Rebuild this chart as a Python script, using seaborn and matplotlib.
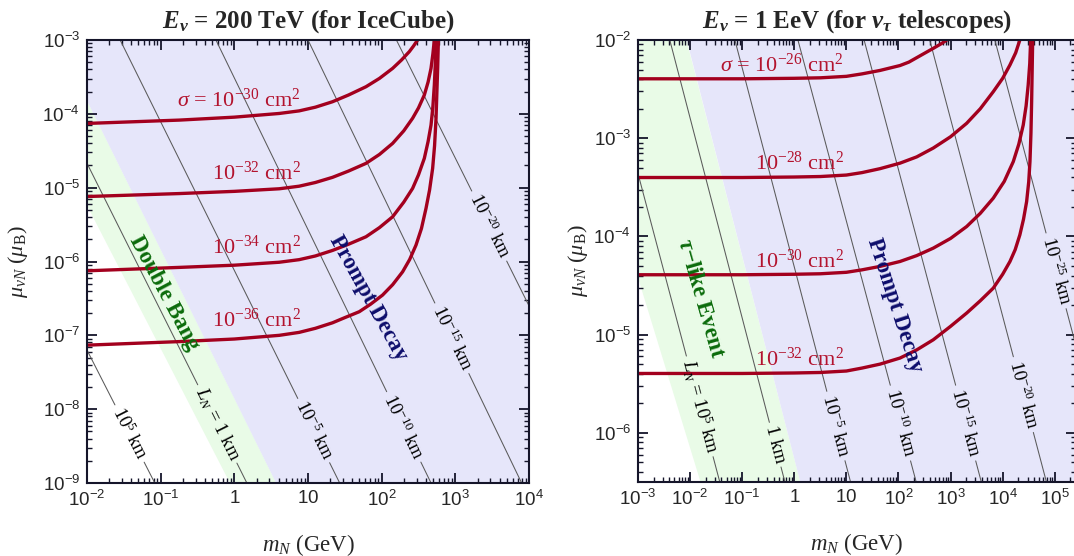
import numpy as np
import pandas as pd
import matplotlib
matplotlib.use("Agg")
import matplotlib.pyplot as plt
import seaborn as sns
from matplotlib.ticker import FixedLocator, FixedFormatter, LogLocator, NullFormatter

# ---------------- data: log10 values ----------------
# Left panel : E_nu = 200 TeV (IceCube)
left_xlim_log = (-2.0, 4.0)
left_ylim_log = (-9.0, -3.0)
left_title = r"$\mathbfit{E}_{\mathbfit{\nu}}$ = 200 TeV (for IceCube)"

left_s30_logm = [-2.0, -0.75, 0.0, 0.61, 0.88, 1.1, 1.333, 1.55, 1.787, 1.97, 2.149, 2.27, 2.375, 2.43, 2.488]
left_s30_logmu = [-4.13, -4.085, -4.045, -3.995, -3.96, -3.91, -3.836, -3.745, -3.633, -3.52, -3.384, -3.27,
                  -3.158, -3.085, -3.0]
left_s32_logm = [-2.0, -0.75, 0.0, 0.61, 0.88, 1.1, 1.333, 1.55, 1.787, 1.97, 2.149, 2.3, 2.42, 2.5, 2.579,
                 2.63, 2.67, 2.695, 2.715]
left_s32_logmu = [-5.12, -5.08, -5.05, -5.015, -4.98, -4.93, -4.86, -4.775, -4.671, -4.55, -4.40, -4.23,
                  -4.06, -3.92, -3.745, -3.57, -3.384, -3.19, -3.0]
left_s34_logm = [-2.0, -0.75, 0.0, 0.61, 0.88, 1.1, 1.333, 1.55, 1.787, 1.97, 2.149, 2.3, 2.42, 2.5, 2.579,
                 2.63, 2.67, 2.695, 2.715, 2.728, 2.738]
left_s34_logmu = [-6.126, -6.08, -6.05, -6.01, -5.975, -5.925, -5.85, -5.766, -5.665, -5.541, -5.394,
                  -5.196, -5.01, -4.826, -4.603, -4.376, -4.152, -3.906, -3.61, -3.326, -3.0]
left_s36_logm = [-2.0, -0.75, 0.0, 0.61, 0.88, 1.1, 1.333, 1.5, 1.696, 1.85, 2.012, 2.15, 2.284, 2.38,
                 2.466, 2.54, 2.602, 2.65, 2.692, 2.718, 2.738, 2.76, 2.77]
left_s36_logmu = [-7.133, -7.085, -7.05, -7.0, -6.96, -6.905, -6.83, -6.76, -6.68, -6.578, -6.455, -6.313,
                  -6.14, -5.973, -5.778, -5.553, -5.28, -5.033, -4.738, -4.433, -4.06, -3.384, -3.0]
left_sigma_labels = [r"$\sigma$ = 10$^{-30}$ cm$^{2}$", r"10$^{-32}$ cm$^{2}$",
                     r"10$^{-34}$ cm$^{2}$", r"10$^{-36}$ cm$^{2}$"]
left_sigma_label_logm = 0.9
left_sigma_label_logmu = [-3.81, -4.80, -5.80, -6.79]

# decay-length lines: two points (log m, log mu) each, label, label height
left_L_p1 = [(-2.0, -7.2), (-2.0, -4.67), (-1.55, -3.0), (-0.25, -3.0), (1.0, -3.0), (2.2, -3.0)]
left_L_p2 = [(-1.08, -9.0), (0.17, -9.0), (1.43, -9.0), (2.67, -9.0), (3.9, -9.0), (4.0, -6.6)]
left_L_labels = [r"10$^{5}$ km", r"$L_N$ = 1 km", r"10$^{-5}$ km", r"10$^{-10}$ km",
                 r"10$^{-15}$ km", r"10$^{-20}$ km"]
left_L_label_logmu = [-8.33, -8.2, -8.29, -8.24, -7.04, -5.52]

# region boundaries (two points each)
left_green_left = [(-2.0, -5.24), (-0.06, -9.0)]
left_green_right = [(-2.0, -3.82), (0.57, -9.0)]
left_region_texts = ["Double Bang", "Prompt Decay"]
left_region_pos = [(-0.95, -6.43), (1.82, -6.50)]

left_xticks_log = [-2, -1, 0, 1, 2, 3, 4]
left_xticklabels = [r"$\mathsf{10^{-2}}$", r"$\mathsf{10^{-1}}$", r"$\mathsf{1}$", r"$\mathsf{10}$",
                    r"$\mathsf{10^{2}}$", r"$\mathsf{10^{3}}$", r"$\mathsf{10^{4}}$"]
left_yticks_log = [-9, -8, -7, -6, -5, -4, -3]
left_yticklabels = [r"$\mathsf{10^{-9}}$", r"$\mathsf{10^{-8}}$", r"$\mathsf{10^{-7}}$", r"$\mathsf{10^{-6}}$",
                    r"$\mathsf{10^{-5}}$", r"$\mathsf{10^{-4}}$", r"$\mathsf{10^{-3}}$"]

# Right panel : E_nu = 1 EeV (nu_tau telescopes)
right_xlim_log = (-3.0, 5.4)
right_ylim_log = (-6.5, -2.0)
right_title = r"$\mathbfit{E}_{\mathbfit{\nu}}$ = 1 EeV (for $\mathbfit{\nu}_{\mathbfit{\tau}}$ telescopes)"

right_s26_logm = [-3.0, -1.0, 0.0, 0.5, 1.0, 1.3, 1.645, 2.029, 2.2, 2.35, 2.5, 2.668, 2.83, 2.98]
right_s26_logmu = [-2.395, -2.395, -2.39, -2.385, -2.37, -2.345, -2.31, -2.26, -2.225, -2.18, -2.135,
                   -2.085, -2.035, -1.98]
right_s28_logm = [-3.0, -1.0, 0.0, 0.5, 1.0, 1.3, 1.645, 2.029, 2.35, 2.668, 3.0, 3.309, 3.57, 3.82, 4.0,
                  4.14, 4.25, 4.33]
right_s28_logmu = [-3.40, -3.40, -3.395, -3.39, -3.375, -3.35, -3.31, -3.254, -3.19, -3.10, -2.985, -2.848,
                   -2.70, -2.526, -2.39, -2.254, -2.13, -2.0]
right_s30_logm = [-3.0, -1.0, 0.0, 0.5, 1.0, 1.3, 1.645, 2.029, 2.35, 2.668, 3.0, 3.309, 3.57, 3.82, 4.03,
                  4.204, 4.31, 4.395, 4.45, 4.49, 4.52, 4.537]
right_s30_logmu = [-4.39, -4.39, -4.385, -4.38, -4.365, -4.34, -4.305, -4.255, -4.195, -4.119, -4.02,
                   -3.899, -3.765, -3.61, -3.44, -3.238, -3.06, -2.865, -2.67, -2.458, -2.24, -2.0]
right_s32_logm = [-3.0, -1.0, 0.0, 0.5, 1.0, 1.3, 1.645, 2.029, 2.35, 2.668, 3.0, 3.309, 3.57, 3.82, 4.0,
                  4.14, 4.24, 4.33, 4.40, 4.46, 4.50, 4.524, 4.543, 4.556, 4.576]
right_s32_logmu = [-5.395, -5.395, -5.39, -5.385, -5.37, -5.34, -5.30, -5.238, -5.155, -5.052, -4.915,
                   -4.78, -4.655, -4.526, -4.385, -4.255, -4.135, -3.984, -3.825, -3.645, -3.445,
                   -3.238, -2.945, -2.628, -2.0]
right_sigma_labels = [r"$\sigma$ = 10$^{-26}$ cm$^{2}$", r"10$^{-28}$ cm$^{2}$",
                      r"10$^{-30}$ cm$^{2}$", r"10$^{-32}$ cm$^{2}$"]
right_sigma_label_logm = 0.95
right_sigma_label_logmu = [-2.256, -3.25, -4.256, -5.25]

right_L_p1 = [(-3.0, -3.36), (-2.39, -2.0), (-1.14, -2.0), (0.07, -2.0), (1.34, -2.0), (2.60, -2.0), (3.85, -2.0)]
right_L_p2 = [(-1.43, -6.5), (-0.18, -6.5), (1.08, -6.5), (2.34, -6.5), (3.59, -6.5), (4.84, -6.5), (5.4, -5.1)]
right_L_labels = [r"$L_N$ = 10$^{5}$ km", r"1 km", r"10$^{-5}$ km", r"10$^{-10}$ km",
                  r"10$^{-15}$ km", r"10$^{-20}$ km", r"10$^{-25}$ km"]
right_L_label_logmu = [-5.73, -6.12, -5.93, -5.90, -5.90, -5.61, -4.35]

right_green_left = [(-3.0, -4.42), (-1.80, -6.5)]
right_green_right = [(-2.07, -2.0), (0.115, -6.5)]
right_region_texts = [r"$\mathbfit{\tau}$" + "\u2212like Event", "Prompt Decay"]
right_region_pos = [(-1.81, -4.63), (1.93, -4.70)]

right_xticks_log = [-3, -2, -1, 0, 1, 2, 3, 4, 5]
right_xticklabels = [r"$\mathsf{10^{-3}}$", r"$\mathsf{10^{-2}}$", r"$\mathsf{10^{-1}}$", r"$\mathsf{1}$",
                     r"$\mathsf{10}$", r"$\mathsf{10^{2}}$", r"$\mathsf{10^{3}}$", r"$\mathsf{10^{4}}$",
                     r"$\mathsf{10^{5}}$"]
right_yticks_log = [-6, -5, -4, -3, -2]
right_yticklabels = [r"$\mathsf{10^{-6}}$", r"$\mathsf{10^{-5}}$", r"$\mathsf{10^{-4}}$",
                     r"$\mathsf{10^{-3}}$", r"$\mathsf{10^{-2}}$"]

xlabel = r"$m_N$ (GeV)"
ylabel = r"$\mu_{\nu N}$ ($\mu_{\rm B}$)"

# ---------------- style ----------------
sns.set_theme(style="ticks")
plt.rcParams.update({
    "font.family": ["Liberation Serif", "DejaVu Serif"],
    "mathtext.fontset": "custom",
    "mathtext.rm": "Liberation Serif",
    "mathtext.it": "Liberation Serif:italic",
    "mathtext.bf": "Liberation Serif:bold",
    "mathtext.sf": "Liberation Sans",
    "axes.linewidth": 1.5,
    "axes.edgecolor": "#15152a",
})
try:
    plt.rcParams["mathtext.bfit"] = "Liberation Serif:italic:bold"
except Exception:
    pass

RED = "#a3001e"
RED_TXT = "#b3132e"
BLUE_BG = "#e6e6fa"
GREEN_BG = "#e9fbe7"
GREEN_TXT = "#0b6b0b"
NAVY_TXT = "#0d0d6b"
GREY = "#5a5a5a"

fig = plt.figure(figsize=(10.74, 5.56), dpi=100)
W, H = 1074.0, 556.0
axL = fig.add_axes([87 / W, 1 - 483 / H, 442 / W, 443 / H])
axR = fig.add_axes([638 / W, 1 - 482 / H, 437.6 / W, 442 / H])
renderer = fig.canvas.get_renderer()


def x_at(edge, ylog):
    (x1, y1), (x2, y2) = edge
    return x1 + (ylog - y1) * (x2 - x1) / (y2 - y1)


def setup(ax, xlim, ylim, xt, xtl, yt, ytl):
    ax.set_xscale("log")
    ax.set_yscale("log")
    ax.set_xlim(10 ** xlim[0], 10 ** xlim[1])
    ax.set_ylim(10 ** ylim[0], 10 ** ylim[1])
    ax.set_facecolor("white")
    ax.xaxis.set_major_locator(FixedLocator(10.0 ** np.array(xt)))
    ax.xaxis.set_major_formatter(FixedFormatter(xtl))
    ax.yaxis.set_major_locator(FixedLocator(10.0 ** np.array(yt)))
    ax.yaxis.set_major_formatter(FixedFormatter(ytl))
    for axis in (ax.xaxis, ax.yaxis):
        axis.set_minor_locator(LogLocator(base=10, subs=np.arange(2, 10), numticks=40))
        axis.set_minor_formatter(NullFormatter())
    ax.tick_params(which="both", direction="in", top=True, right=True, color="#15152a")
    ax.tick_params(which="major", length=7, width=1.3, labelsize=13.5, pad=5)
    ax.tick_params(which="minor", length=3.5, width=1.0)
    for s in ax.spines.values():
        s.set_zorder(10)


def regions(ax, xlim, ylim, gl, gr, text, pos, rot):
    yt, yb = ylim[1] + 1.5, ylim[0] - 1.5
    xr = xlim[1] + 1.5
    gx = [x_at(gr, yt), x_at(gr, yb), x_at(gl, yb), x_at(gl, yt)]
    gy = [yt, yb, yb, yt]
    ax.fill(10.0 ** np.array(gx), 10.0 ** np.array(gy), color=GREEN_BG, lw=0, zorder=0)
    bx = [x_at(gr, yt), xr, xr, x_at(gr, yb)]
    by = [yt, yt, yb, yb]
    ax.fill(10.0 ** np.array(bx), 10.0 ** np.array(by), color=BLUE_BG, lw=0, zorder=0)
    cols = [GREEN_TXT, NAVY_TXT]
    for t, p, c, r in zip(text, pos, cols, rot):
        ax.text(10 ** p[0], 10 ** p[1], t, color=c, fontsize=16.5, fontweight="bold",
                rotation=r, rotation_mode="anchor", ha="center", va="center", zorder=4)


def Llines(ax, p1s, p2s, labels, label_y):
    for p1, p2, lab, ly in zip(p1s, p2s, labels, label_y):
        lx = x_at((p1, p2), ly)
        d1 = ax.transData.transform((10 ** p1[0], 10 ** p1[1]))
        d2 = ax.transData.transform((10 ** p2[0], 10 ** p2[1]))
        dc = ax.transData.transform((10 ** lx, 10 ** ly))
        u = (d2 - d1) / np.linalg.norm(d2 - d1)
        ang = np.degrees(np.arctan2(u[1], u[0]))
        txt = ax.text(10 ** lx, 10 ** ly, lab, fontsize=13.5, color="black",
                      ha="center", va="center", rotation=0, zorder=4)
        w = txt.get_window_extent(renderer).width
        txt.set_rotation(ang)
        txt.set_rotation_mode("anchor")
        gap = w / 2 + 4
        inv = ax.transData.inverted()
        a = inv.transform(dc - u * gap)
        b = inv.transform(dc + u * gap)
        for seg in ([(10 ** p1[0], 10 ** p1[1]), tuple(a)], [tuple(b), (10 ** p2[0], 10 ** p2[1])]):
            df = pd.DataFrame(seg, columns=["m", "mu"])
            sns.lineplot(data=df, x="m", y="mu", ax=ax, color=GREY, linewidth=0.75,
                         estimator=None, sort=False, legend=False, zorder=2)


def curves(ax, cl, labels, lx, ly):
    for (xm, ym) in cl:
        df = pd.DataFrame({"m": 10.0 ** np.array(xm), "mu": 10.0 ** np.array(ym)})
        sns.lineplot(data=df, x="m", y="mu", ax=ax, color=RED, linewidth=2.4,
                     estimator=None, sort=False, legend=False, zorder=3,
                     solid_joinstyle="round", solid_capstyle="butt")
    for lab, y in zip(labels, ly):
        ax.text(10 ** lx, 10 ** y, lab, color=RED_TXT, fontsize=16, ha="right",
                va="center", zorder=5)


# ---- left panel ----
setup(axL, left_xlim_log, left_ylim_log, left_xticks_log, left_xticklabels,
      left_yticks_log, left_yticklabels)
regions(axL, left_xlim_log, left_ylim_log, left_green_left, left_green_right,
        left_region_texts, left_region_pos, [-62, -61])
Llines(axL, left_L_p1, left_L_p2, left_L_labels, left_L_label_logmu)
curves(axL, [(left_s30_logm, left_s30_logmu), (left_s32_logm, left_s32_logmu),
             (left_s34_logm, left_s34_logmu), (left_s36_logm, left_s36_logmu)],
       left_sigma_labels, left_sigma_label_logm, left_sigma_label_logmu)

# ---- right panel ----
setup(axR, right_xlim_log, right_ylim_log, right_xticks_log, right_xticklabels,
      right_yticks_log, right_yticklabels)
regions(axR, right_xlim_log, right_ylim_log, right_green_left, right_green_right,
        right_region_texts, right_region_pos, [-74, -72])
Llines(axR, right_L_p1, right_L_p2, right_L_labels, right_L_label_logmu)
curves(axR, [(right_s26_logm, right_s26_logmu), (right_s28_logm, right_s28_logmu),
             (right_s30_logm, right_s30_logmu), (right_s32_logm, right_s32_logmu)],
       right_sigma_labels, right_sigma_label_logm, right_sigma_label_logmu)

for ax, title, ylx in ((axL, left_title, -0.156), (axR, right_title, -0.137)):
    ax.set_title(title, fontsize=18, fontweight="bold", pad=9)
    ax.set_xlabel(xlabel, fontsize=16.5)
    ax.set_ylabel(ylabel, fontsize=16)
    ax.xaxis.label.set_va("center")
    ax.yaxis.label.set_va("center")
    ax.xaxis.set_label_coords(0.5, -0.14)
    ax.yaxis.set_label_coords(ylx, 0.5)

fig.savefig("out.png", dpi=100)
